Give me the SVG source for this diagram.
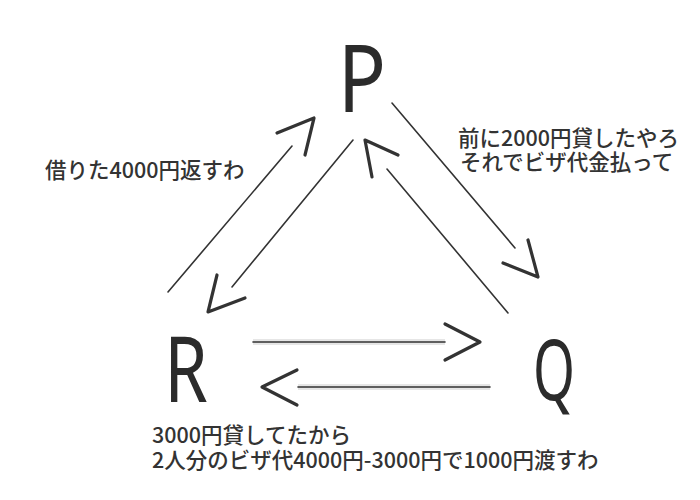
<svg xmlns="http://www.w3.org/2000/svg" width="700" height="500" viewBox="0 0 700 500">
<style>
.node{font-family:"Noto Sans","DejaVu Sans",sans-serif;fill:#2b2b2b;text-anchor:middle}
.lbl{font-family:"Noto Sans CJK JP","Noto Sans",sans-serif;font-size:21.5px;font-weight:500;fill:#333}
.ln{stroke:#333;stroke-width:1.6;fill:none;stroke-linecap:round}
.hd{stroke:#333;stroke-width:3.2;fill:none;stroke-linecap:round;stroke-linejoin:round}
.halo{stroke:#e6e6e6;stroke-width:6;fill:none}
</style>
<rect width="700" height="500" fill="#fff"/>
<g id="node-P"><text class="node" font-size="94" transform="translate(362,112) scale(0.85,1)">P</text></g>
<g id="node-R"><text class="node" font-size="92" transform="translate(186,402) scale(0.76,1)">R</text></g>
<g id="node-Q"><text class="node" font-size="84" transform="translate(554,400) scale(0.64,1)">Q</text></g>
<g id="connectors">
  <g id="R-to-P">
    <line class="ln" x1="168" y1="292" x2="292" y2="146"/>
    <polyline class="hd" points="277,133 314,118 305,155"/>
  </g>
  <g id="P-to-R">
    <line class="ln" x1="353" y1="140" x2="232" y2="287"/>
    <polyline class="hd" points="217,275 208,312 245,298"/>
  </g>
  <g id="Q-to-P">
    <line class="ln" x1="508" y1="313" x2="387" y2="169"/>
    <polyline class="hd" points="372,177 365,140 398,155"/>
  </g>
  <g id="P-to-Q">
    <line class="ln" x1="392" y1="103" x2="515" y2="248"/>
    <polyline class="hd" points="503,263 538,277 528,240"/>
  </g>
  <g id="R-to-Q">
    <line class="halo" x1="253" y1="342" x2="445" y2="342"/>
    <line class="ln" x1="253" y1="342" x2="445" y2="342"/>
    <polyline class="hd" points="445,324 480,342 445,360"/>
  </g>
  <g id="Q-to-R">
    <line class="halo" x1="298" y1="387" x2="490" y2="387"/>
    <line class="ln" x1="298" y1="387" x2="490" y2="387"/>
    <polyline class="hd" points="297,370 262,387 297,405"/>
  </g>
</g>
<g id="labels">
  <text class="lbl" x="45" y="178">借りた4000円返すわ</text>
  <text class="lbl"><tspan x="458" y="146">前に2000円貸したやろ</tspan><tspan x="460" y="170">それでビザ代金払って</tspan></text>
  <text class="lbl"><tspan x="152" y="443">3000円貸してたから</tspan><tspan x="152" y="468">2人分のビザ代4000円-3000円で1000円渡すわ</tspan></text>
</g>
</svg>
